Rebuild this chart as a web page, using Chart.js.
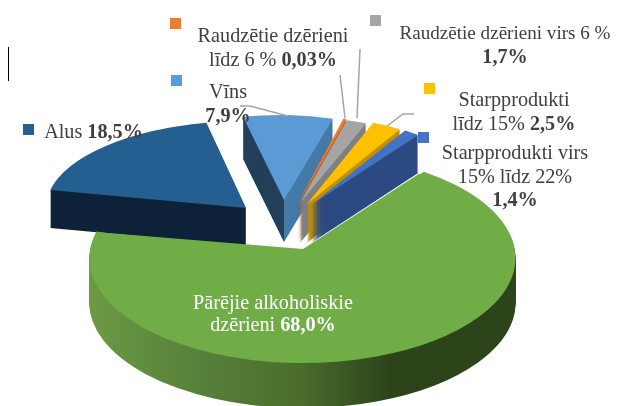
<!DOCTYPE html>
<html>
<head>
<meta charset="utf-8">
<style>
html,body{margin:0;padding:0;background:#fff;}
canvas{display:block;}
</style>
<script src="https://cdn.jsdelivr.net/npm/chart.js@4/dist/chart.umd.min.js"></script>
</head>
<body>
<canvas id="c" width="625" height="406"></canvas>
<script>
// ---- data ----
const categories = ['Alus','Vīns','Raudzētie dzērieni līdz 6 %','Raudzētie dzērieni virs 6 %','Starpprodukti līdz 15%','Starpprodukti virs 15% līdz 22%','Pārējie alkoholiskie dzērieni'];
const shares = [18.5, 7.9, 0.03, 1.7, 2.5, 1.4, 68.0];
const shareLabels = ['18,5%','7,9%','0,03%','1,7%','2,5%','1,4%','68,0%'];
const sliceColors = ['#255e91','#5b9bd5','#ed7d31','#a5a5a5','#ffc000','#4472c4','#70ad47'];

// ---- 3D projection of each exploded slice ----
const projection = [
  {x:246,y:208,rx:200,ry:87,skew:0,depth:38,wall:'#0e2339'},
  {x:284,y:200,rx:183,ry:85,skew:0.058,depth:42,wall:'#457aa7',wallLeft:'#24405a'},
  {x:298,y:203,rx:187,ry:88,skew:0.095,depth:40,wall:'#c5622a',minSpan:1.0},
  {x:300,y:203,rx:187,ry:86.5,skew:0.097,depth:40,wall:'#7f7f7f'},
  {x:307,y:204,rx:189,ry:88.5,skew:0.104,depth:39,wall:'#bf9000'},
  {x:311,y:205,rx:180,ry:88,skew:0.026,depth:38,wall:'#2c4a82'},
  {x:302.5,y:258,rx:213,ry:105,skew:0,depth:45,stretchStart:-2.6,stretchEnd:2.6,
   patch:{x:303,y:249,scale:0.9,endDelta:-2.5},
   wallStops:[[90,'#6b9a44'],[200,'#57803a'],[300,'#4a6d2c'],[390,'#2d441b'],[515,'#2d441b']]}
];
const leaderLines = [
  [[340,75],[345,118]],
  [[360,49],[357,118]],
  [[387,126],[403,114],[414,114]],
  [[240,106],[250,106],[288,116]]
];
const markers = [[23,124],[171,75],[170,18],[370,15],[424,83],[418,132]];
const markerColorIndex = [0,1,2,3,4,5];
// each line: centre x, baseline y, list of [text, bold]
const labelLines = [
  {x:273,y:42,runs:[['Raudzētie dzērieni',0]]},
  {x:273,y:66,runs:[['līdz 6 % ',0],[shareLabels[2],1]]},
  {x:505,y:39,size:19.1,runs:[['Raudzētie dzērieni virs 6 %',0]]},
  {x:505,y:63,runs:[[shareLabels[3],1]]},
  {x:228,y:98,runs:[['Vīns',0]]},
  {x:228,y:122,runs:[[shareLabels[1],1]]},
  {x:93.5,y:138,runs:[['Alus ',0],[shareLabels[0],1]]},
  {x:514,y:106,runs:[['Starpprodukti',0]]},
  {x:514,y:130,runs:[['līdz 15% ',0],[shareLabels[4],1]]},
  {x:515,y:159,runs:[['Starpprodukti virs',0]]},
  {x:515,y:183,runs:[['15% līdz 22%',0]]},
  {x:515,y:206,runs:[[shareLabels[5],1]]},
  {x:273,y:309,color:'#ffffff',runs:[['Pārējie alkoholiskie',0]]},
  {x:273,y:331,color:'#ffffff',runs:[['dzērieni ',0],[shareLabels[6],1]]}
];
const FONT_SIZE = 20.2;
const FONT_FAMILY = '"Liberation Serif","Times New Roman",serif';

function paintArc(ctx, el, p, color, o){
  o = o || {};
  const R = el.outerRadius, s = el.startAngle, e = el.endAngle, op = el.options;
  let a = s + (o.startDelta||0)*Math.PI/180, b = e + (o.endDelta||0)*Math.PI/180;
  if (p.minSpan && (b-a) < p.minSpan*Math.PI/180){
    const m=(a+b)/2, h=p.minSpan*Math.PI/360; a=m-h; b=m+h;
  }
  el.startAngle=a; el.endAngle=b;
  el.options={backgroundColor:color,borderColor:color,borderWidth:0,borderAlign:'center',offset:0,spacing:0,circular:true,borderRadius:0,borderDash:[],borderDashOffset:0};
  ctx.save();
  ctx.translate(o.x!==undefined?o.x:p.x, (o.y!==undefined?o.y:p.y)+(o.dy||0));
  ctx.transform(1,0,p.skew||0,1,0,0);
  const k=o.scale||1;
  ctx.scale(p.rx*k/R,p.ry*k/R);
  ctx.translate(-el.x,-el.y);
  el.draw(ctx);
  ctx.restore();
  el.startAngle=s; el.endAngle=e; el.options=op;
}
function stack(ctx, el, p, color, o){
  for(let d=p.depth;d>=1;d--) paintArc(ctx,el,p,color,Object.assign({},o,{dy:d}));
}

const pie3d = {
  id:'pie3d',
  beforeDatasetsDraw(chart){
    const ctx=chart.ctx, arcs=chart.getDatasetMeta(0).data;
    arcs.forEach((el,i)=>{
      const p=projection[i];
      const o={startDelta:p.stretchStart||0,endDelta:p.stretchEnd||0};
      if(p.wallStops){
        const R=el.outerRadius, ux=v=>el.x+(v-p.x)*R/p.rx;
        const f=p.wallStops, g=ctx.createLinearGradient(ux(f[0][0]),0,ux(f[f.length-1][0]),0);
        const span=f[f.length-1][0]-f[0][0];
        f.forEach(st=>g.addColorStop((st[0]-f[0][0])/span,st[1]));
        stack(ctx,el,p,g,o);
      } else if(p.wallLeft){
        ctx.save();ctx.beginPath();ctx.rect(0,0,p.x,chart.height);ctx.clip();
        stack(ctx,el,p,p.wallLeft,o);ctx.restore();
        ctx.save();ctx.beginPath();ctx.rect(p.x,0,chart.width-p.x,chart.height);ctx.clip();
        stack(ctx,el,p,p.wall,o);ctx.restore();
      } else {
        stack(ctx,el,p,p.wall,o);
      }
      paintArc(ctx,el,p,sliceColors[i],o);
      if(p.patch) paintArc(ctx,el,p,sliceColors[i],p.patch);
    });
    return false;
  },
  afterDraw(chart){
    const ctx=chart.ctx;
    // stray vertical rule at the left
    ctx.save();
    ctx.strokeStyle='#000';ctx.lineWidth=1;
    ctx.beginPath();ctx.moveTo(8.5,47);ctx.lineTo(8.5,81);ctx.stroke();
    // leader lines
    ctx.strokeStyle='#a5a5a5';ctx.lineWidth=1.5;
    leaderLines.forEach(l=>{
      ctx.beginPath();
      l.forEach((pt,i)=>i?ctx.lineTo(pt[0],pt[1]):ctx.moveTo(pt[0],pt[1]));
      ctx.stroke();
    });
    // legend-key markers
    markers.forEach((m,i)=>{
      ctx.fillStyle=sliceColors[markerColorIndex[i]];
      ctx.fillRect(m[0],m[1],11,11);
    });
    // labels
    ctx.textBaseline='alphabetic';ctx.textAlign='left';
    labelLines.forEach(line=>{
      const size=line.size||FONT_SIZE;
      const fonts=line.runs.map(r=>(r[1]?'bold ':'')+size+'px '+FONT_FAMILY);
      let w=0;
      line.runs.forEach((r,i)=>{ctx.font=fonts[i];w+=ctx.measureText(r[0]).width;});
      let x=line.x-w/2;
      ctx.fillStyle=line.color||'#404040';
      line.runs.forEach((r,i)=>{ctx.font=fonts[i];ctx.fillText(r[0],x,line.y);x+=ctx.measureText(r[0]).width;});
    });
    ctx.restore();
  }
};

new Chart(document.getElementById('c'),{
  type:'pie',
  data:{labels:categories,datasets:[{data:shares,backgroundColor:sliceColors,borderWidth:0}]},
  options:{
    responsive:false,animation:false,rotation:-78,
    layout:{padding:0},
    plugins:{legend:{display:false},tooltip:{enabled:false}}
  },
  plugins:[pie3d]
});
</script>
</body>
</html>
